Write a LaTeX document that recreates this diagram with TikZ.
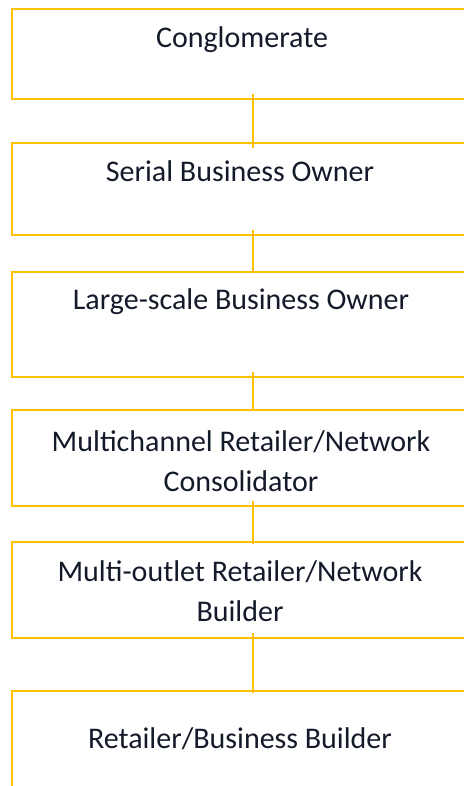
\documentclass[tikz,border=0pt]{standalone}
\usepackage{fontspec}
\setmainfont{Carlito}
\usetikzlibrary{positioning}
\definecolor{gold}{HTML}{FFC000}
\definecolor{ink}{HTML}{141A2A}

\begin{document}
\begin{tikzpicture}[
      x=0.5pt, y=-0.5pt,
      tier/.style={draw=gold, line width=1pt, anchor=north west, inner sep=0pt,
                   minimum width=241pt},
      tiertext/.style={font=\fontsize{15}{20}\selectfont, text=ink, align=center,
                       inner sep=0pt},
      link/.style={draw=gold, line width=1pt}
    ]
      \clip (0,0) rectangle (464,786);
      % the six tiers, top to bottom
      \node[tier, minimum height=45pt]   (conglo)  at (11,8)   {};
      \node[tier, minimum height=46pt]   (serial)  at (11,142) {};
      \node[tier, minimum height=52.5pt] (large)   at (11,271) {};
      \node[tier, minimum height=48pt]   (multich) at (11,409) {};
      \node[tier, minimum height=48pt]   (multiou) at (11,541) {};
      \node[tier, minimum height=60pt]   (retail)  at (11,690) {};
      % labels
      \node[tiertext, anchor=base]   (tconglo)  at (242,48)  {Conglomerate};
      \node[tiertext, anchor=base]   (tserial)  at (240,182) {Serial Business Owner};
      \node[tiertext, anchor=base]   (tlarge)   at (241,309) {Large-scale Business Owner};
      \node[tiertext, anchor=center] (tmultich) at (241,461) {Multichannel Retailer/Network\\Consolidator};
      \node[tiertext, anchor=center] (tmultiou) at (240,591) {Multi-outlet Retailer/Network\\Builder};
      \node[tiertext, anchor=base]   (tretail)  at (240,748) {Retailer/Business Builder};
      % connectors
      \draw[link] ([yshift=3pt]conglo.south)  -- ([yshift=-3pt]serial.north);
      \draw[link] ([yshift=3pt]serial.south)  -- ([yshift=-1pt]large.north);
      \draw[link] ([yshift=3pt]large.south)   -- ([yshift=-1pt]multich.north);
      \draw[link] ([yshift=3pt]multich.south) -- ([yshift=-1.5pt]multiou.north);
      \draw[link] ([yshift=3pt]multiou.south) -- ([yshift=-1.5pt]retail.north);
    \end{tikzpicture}
\end{document}
